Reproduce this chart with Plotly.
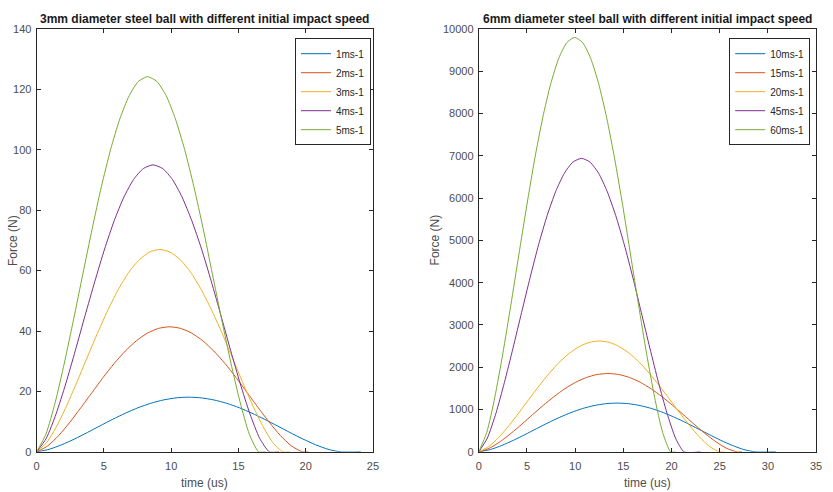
import plotly.graph_objects as go

# ---- Left panel: 3mm ball (time in us, force in N) ----
left_names = ["1ms-1", "2ms-1", "3ms-1", "4ms-1", "5ms-1"]
t_1ms = [0, 0.94, 1.88, 2.83, 3.77, 4.71, 5.65, 6.59, 7.53, 8.48, 9.42, 10.36, 11.3,
         12.24, 13.18, 14.13, 15.07, 16.01, 16.95, 17.89, 18.83, 19.78, 20.72, 21.66, 22.6, 24.1]
f_1ms = [0, 0.85, 2.38, 4.28, 6.40, 8.60, 10.76, 12.79, 14.59, 16.07, 17.18, 17.87, 18.1,
         17.87, 17.18, 16.07, 14.59, 12.79, 10.76, 8.60, 6.40, 4.28, 2.38, 0.85, 0, 0]
t_2ms = [0, 0.82, 1.65, 2.47, 3.29, 4.12, 4.94, 5.76, 6.59, 7.41, 8.23, 9.06, 9.88,
         10.70, 11.53, 12.35, 13.17, 14.00, 14.82, 15.64, 16.47, 17.29, 18.11, 18.94, 19.76, 20.2]
f_2ms = [0, 1.95, 5.45, 9.80, 14.64, 19.66, 24.62, 29.25, 33.37, 36.76, 39.30, 40.87, 41.4,
         40.87, 39.30, 36.76, 33.37, 29.25, 24.62, 19.66, 14.64, 9.80, 5.45, 1.95, 0, 0]
t_3ms = [0, 0.76, 1.53, 2.29, 3.05, 3.81, 4.58, 5.34, 6.10, 6.86, 7.63, 8.39, 9.15,
         9.91, 10.68, 11.44, 12.2, 12.96, 13.73, 14.49, 15.25, 16.01, 16.78, 17.54, 18.3, 18.8]
f_3ms = [0, 3.16, 8.82, 15.86, 23.69, 31.82, 39.84, 47.34, 54.00, 59.50, 63.61, 66.14, 67.0,
         66.14, 63.61, 59.50, 54.00, 47.34, 39.84, 31.82, 23.69, 15.86, 8.82, 3.16, 0, 0]
t_4ms = [0, 0.72, 1.44, 2.16, 2.88, 3.60, 4.33, 5.05, 5.77, 6.49, 7.21, 7.93, 8.65,
         9.37, 10.09, 10.81, 11.53, 12.26, 12.98, 13.70, 14.42, 15.14, 15.86, 16.58, 17.3, 18.0]
f_4ms = [0, 4.48, 12.51, 22.49, 33.59, 45.12, 56.49, 67.13, 76.56, 84.36, 90.19, 93.78, 95.0,
         93.78, 90.19, 84.36, 76.56, 67.13, 56.49, 45.12, 33.59, 22.49, 12.51, 4.48, 0, 0]
t_5ms = [0, 0.69, 1.38, 2.06, 2.75, 3.44, 4.13, 4.81, 5.5, 6.19, 6.88, 7.56, 8.25,
         8.94, 9.63, 10.31, 11.0, 11.69, 12.38, 13.06, 13.75, 14.44, 15.13, 15.81, 16.5, 17.0]
f_5ms = [0, 5.86, 16.35, 29.40, 43.91, 58.99, 73.85, 87.76, 100.10, 110.29, 117.91, 122.61, 124.2,
         122.61, 117.91, 110.29, 100.10, 87.76, 73.85, 58.99, 43.91, 29.40, 16.35, 5.86, 0, 0]

# ---- Right panel: 6mm ball ----
right_names = ["10ms-1", "15ms-1", "20ms-1", "45ms-1", "60ms-1"]
t_10ms = [0, 1.20, 2.39, 3.59, 4.78, 5.98, 7.18, 8.37, 9.57, 10.76, 11.96, 13.15, 14.35,
          15.55, 16.74, 17.94, 19.13, 20.33, 21.53, 22.72, 23.92, 25.11, 26.31, 27.50, 28.7, 30.8]
f_10ms = [0, 54.4, 151.8, 272.9, 407.6, 547.6, 685.6, 814.8, 929.2, 1023.9, 1094.6, 1138.2, 1153,
          1138.2, 1094.6, 1023.9, 929.2, 814.8, 685.6, 547.6, 407.6, 272.9, 151.8, 54.4, 0, 0]
t_15ms = [0, 1.12, 2.23, 3.35, 4.47, 5.58, 6.70, 7.82, 8.93, 10.05, 11.17, 12.28, 13.4,
          14.52, 15.63, 16.75, 17.87, 18.98, 20.10, 21.22, 22.33, 23.45, 24.57, 25.68, 26.8, 27.3]
f_15ms = [0, 87.4, 244.0, 438.7, 655.1, 880.1, 1101.8, 1309.4, 1493.4, 1645.5, 1759.1, 1829.3, 1853,
          1829.3, 1759.1, 1645.5, 1493.4, 1309.4, 1101.8, 880.1, 655.1, 438.7, 244.0, 87.4, 0, 0]
t_20ms = [0, 1.04, 2.08, 3.13, 4.17, 5.21, 6.25, 7.29, 8.33, 9.38, 10.42, 11.46, 12.5,
          13.54, 14.58, 15.63, 16.67, 17.71, 18.75, 19.79, 20.83, 21.88, 22.92, 23.96, 25.0, 25.5]
f_20ms = [0, 123.7, 345.2, 620.7, 927.0, 1245.4, 1559.0, 1852.8, 2113.1, 2328.4, 2489.1, 2588.4, 2622,
          2588.4, 2489.1, 2328.4, 2113.1, 1852.8, 1559.0, 1245.4, 927.0, 620.7, 345.2, 123.7, 0, 0]
t_45ms = [0, 0.89, 1.78, 2.66, 3.55, 4.44, 5.33, 6.21, 7.10, 7.99, 8.88, 9.76, 10.65,
          11.54, 12.43, 13.31, 14.2, 15.09, 15.98, 16.86, 17.75, 18.64, 19.53, 20.41, 21.3, 23.0]
f_45ms = [0, 327.3, 913.8, 1642.9, 2453.6, 3296.3, 4126.5, 4904.1, 5593.2, 6162.9, 6588.3, 6851.1, 6940,
          6851.1, 6588.3, 6162.9, 5593.2, 4904.1, 4126.5, 3296.3, 2453.6, 1642.9, 913.8, 327.3, 0, 0]
t_60ms = [0, 0.83, 1.66, 2.49, 3.32, 4.15, 4.98, 5.80, 6.63, 7.46, 8.29, 9.12, 9.95,
          10.78, 11.61, 12.44, 13.27, 14.10, 14.93, 15.75, 16.58, 17.41, 18.24, 19.07, 19.9, 20.4]
f_60ms = [0, 462.2, 1290.4, 2320.0, 3464.8, 4654.7, 5827.1, 6925.1, 7898.1, 8702.6, 9303.4, 9674.5, 9800,
          9674.5, 9303.4, 8702.6, 7898.1, 6925.1, 5827.1, 4654.7, 3464.8, 2320.0, 1290.4, 462.2, 0, 0]

colors = ["#0072BD", "#D95319", "#EDB120", "#7E2F8E", "#77AC30"]

left_t = [t_1ms, t_2ms, t_3ms, t_4ms, t_5ms]
left_f = [f_1ms, f_2ms, f_3ms, f_4ms, f_5ms]
right_t = [t_10ms, t_15ms, t_20ms, t_45ms, t_60ms]
right_f = [f_10ms, f_15ms, f_20ms, f_45ms, f_60ms]

fig = go.Figure()
for name, t, f, c in zip(left_names, left_t, left_f, colors):
    fig.add_trace(go.Scatter(x=t, y=f, name=name, mode="lines",
                             line=dict(color=c, width=1, shape="spline", smoothing=0.6),
                             xaxis="x", yaxis="y", legend="legend"))
for name, t, f, c in zip(right_names, right_t, right_f, colors):
    fig.add_trace(go.Scatter(x=t, y=f, name=name, mode="lines",
                             line=dict(color=c, width=1, shape="spline", smoothing=0.6),
                             xaxis="x2", yaxis="y2", legend="legend2"))

W, H = 833, 492
FONT = "Liberation Sans, Arial, sans-serif"
axcol = "#262626"
tickfont = dict(family=FONT, size=11, color="#4d4d4d")

def xax(domain, rng, dtick):
    return dict(domain=domain, range=rng, dtick=dtick, showgrid=False, zeroline=False,
                showline=True, linecolor=axcol, linewidth=1, mirror="ticks",
                ticks="inside", ticklen=4, tickcolor=axcol, tickfont=tickfont,
                ticklabelstandoff=4)

def yax(domain, rng, dtick, anchor):
    return dict(domain=domain, range=rng, dtick=dtick, showgrid=False, zeroline=False,
                showline=True, linecolor=axcol, linewidth=1, mirror="ticks",
                ticks="inside", ticklen=4, tickcolor=axcol, tickfont=tickfont,
                tickformat="d", anchor=anchor, ticklabelstandoff=2)

ydom = [35 / H, 468.5 / H]
legfont = dict(family=FONT, size=10, color="#262626")

def ann(text, x, y, angle=0, bold=False, size=12, color="#4d4d4d"):
    return dict(text=("<b>%s</b>" % text) if bold else text,
                x=x / W, y=(H - y) / H, xref="paper", yref="paper", showarrow=False,
                xanchor="center", yanchor="middle", textangle=angle,
                font=dict(family=FONT, size=size, color=color))

fig.update_layout(
    width=W, height=H,
    margin=dict(l=0, r=0, t=0, b=0),
    paper_bgcolor="white", plot_bgcolor="white",
    xaxis=xax([34 / W, 374 / W], [0, 25], 5),
    yaxis=yax(ydom, [0, 140], 20, "x"),
    xaxis2=dict(xax([481 / W, 822 / W], [0, 35], 5), anchor="y2"),
    yaxis2=yax(ydom, [0, 10000], 1000, "x2"),
    legend=dict(x=372 / W, xanchor="right", y=(H - 33) / H, yanchor="top",
                bgcolor="white", bordercolor=axcol, borderwidth=1,
                font=legfont, itemwidth=30, tracegroupgap=0),
    legend2=dict(x=816 / W, xanchor="right", y=(H - 33) / H, yanchor="top",
                 bgcolor="white", bordercolor=axcol, borderwidth=1,
                 font=legfont, itemwidth=30, tracegroupgap=0),
    annotations=[
        ann("3mm diameter steel ball with different initial impact speed", 204, 13,
            bold=True, size=12, color="#1a1a1a"),
        ann("6mm diameter steel ball with different initial impact speed", 651.5, 13,
            bold=True, size=12, color="#1a1a1a"),
        ann("time (us)", 204, 489),
        ann("time (us)", 651.5, 489),
        ann("Force (N)", 10, 240, angle=-90),
        ann("Force (N)", 437, 240, angle=-90),
    ],
)

fig.write_html("out.html")
